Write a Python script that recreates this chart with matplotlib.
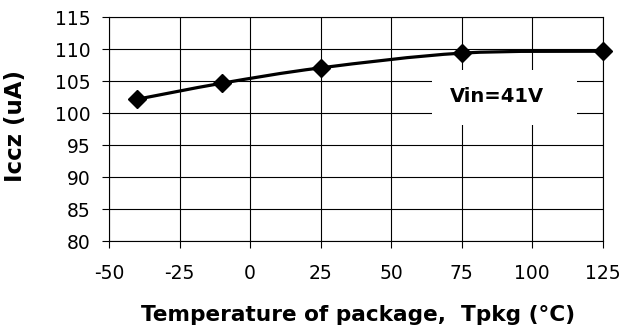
import matplotlib
matplotlib.use("Agg")
import matplotlib.pyplot as plt
from matplotlib.path import Path
from matplotlib.patches import PathPatch, Rectangle
import numpy as np

# package temperature (degC) vs Iccz (uA), Vin = 41 V
temp_c = [-40, -10, 25, 75, 125]
iccz_ua = [102.2, 104.7, 107.1, 109.4, 109.7]

x_ticks = [-50, -25, 0, 25, 50, 75, 100, 125]
y_ticks = [80, 85, 90, 95, 100, 105, 110, 115]

plt.rcParams["font.family"] = ["DejaVu Sans"]
plt.rcParams["axes.unicode_minus"] = False


def smooth_path(xs, ys):
    # Excel style smoothed line: Catmull-Rom segments as cubic Beziers
    pts = np.column_stack([xs, ys]).astype(float)
    verts = [pts[0]]
    codes = [Path.MOVETO]
    n = len(pts)
    for i in range(n - 1):
        p0 = pts[i - 1] if i > 0 else pts[i]
        p1, p2 = pts[i], pts[i + 1]
        p3 = pts[i + 2] if i + 2 < n else pts[i + 1]
        verts += [p1 + (p2 - p0) / 6.0, p2 - (p3 - p1) / 6.0, p2]
        codes += [Path.CURVE4] * 3
    return Path(verts, codes)


fig = plt.figure(figsize=(6.24, 3.36), dpi=100)
ax = fig.add_axes([0.1747, 0.2818, 0.7912, 0.6667])

ax.set_xlim(-50, 125)
ax.set_ylim(80, 115)
ax.set_xticks(x_ticks)
ax.set_yticks(y_ticks)
ax.grid(True, color="black", linewidth=0.8)
ax.set_axisbelow(True)
for s in ax.spines.values():
    s.set_linewidth(0.8)
ax.tick_params(direction="out", length=5, width=0.8, labelsize=13.5)
ax.tick_params(axis="x", pad=11)
ax.tick_params(axis="y", pad=8)

ax.add_patch(PathPatch(smooth_path(temp_c, iccz_ua), facecolor="none",
                       edgecolor="black", linewidth=2.3, zorder=3))
ax.plot(temp_c, iccz_ua, linestyle="none", marker="D", markersize=9,
        color="black", zorder=4, clip_on=False)

ax.add_patch(Rectangle((0.654, 0.519), 0.294, 0.246, transform=ax.transAxes,
                       facecolor="white", edgecolor="none", zorder=2))
ax.text(87.5, 102.7, "Vin=41V", ha="center", va="center",
        fontsize=14, fontweight="bold", zorder=5)

ax.set_xlabel("Temperature of package,  Tpkg (°C)", fontsize=15.6,
              fontweight="bold")
ax.xaxis.set_label_coords(0.504, -0.285)
ax.set_ylabel("Iccz (uA)", fontsize=16.5, fontweight="bold")
ax.yaxis.set_label_coords(-0.166, 0.517)

fig.savefig("out.png", dpi=100)
